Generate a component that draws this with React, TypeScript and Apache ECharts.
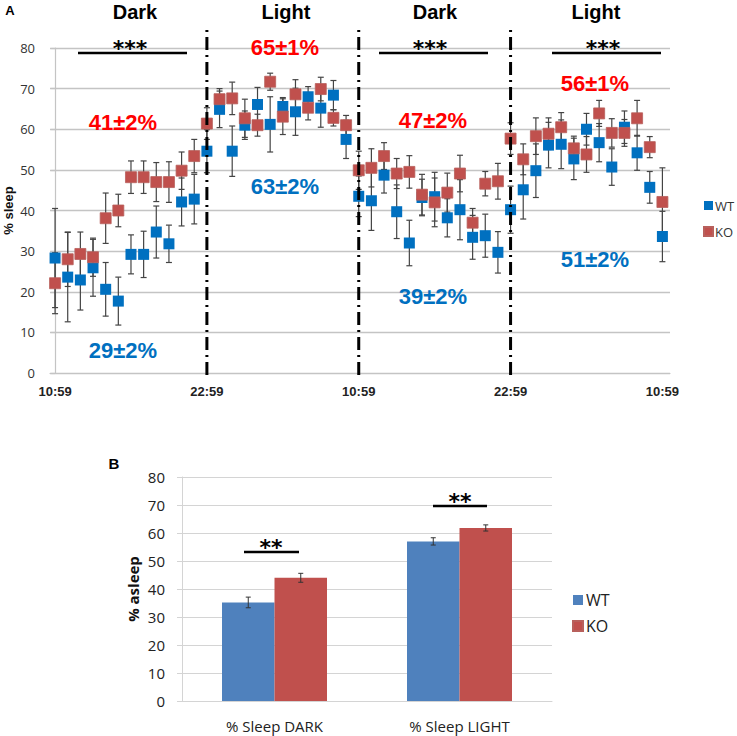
import React, { useEffect, useRef } from "react";
import * as echarts from "echarts";

// ---------- Panel A data (hourly, 0..48) ----------
const hours: number[] = Array.from({ length: 49 }, (_, i) => i);
const tickHours = [0, 12, 24, 36, 48];
const tickLabels = ["10:59", "22:59", "10:59", "22:59", "10:59"];
const dividerHours = [12, 24, 36];

const wtValues = [
  28.3, 23.6, 22.9, 25.9, 20.6, 17.7, 29.2, 29.2, 34.7, 31.8, 42.1, 42.8, 54.6,
  64.9, 54.6, 61.0, 66.1, 61.2, 65.6, 64.3, 68.0, 65.2, 68.4, 57.5,
  43.5, 42.4, 48.7, 39.7, 32.0, 43.2, 43.4, 38.2, 40.2, 33.4, 33.8, 29.7,
  40.2, 45.1, 49.8, 56.1, 56.3, 52.7, 60.0, 56.7, 50.7, 60.5, 54.2, 45.7, 33.6,
];
const koValues = [
  22.1, 28.0, 29.3, 28.5, 38.1, 40.0, 48.2, 48.2, 47.0, 47.0, 49.8, 53.4, 61.4,
  67.4, 67.6, 62.7, 61.0, 71.7, 63.1, 68.6, 65.3, 69.9, 62.8, 61.0,
  49.9, 50.5, 53.4, 49.1, 49.5, 43.9, 42.0, 44.4, 49.1, 37.0, 46.6, 47.2,
  57.7, 52.6, 58.3, 58.9, 60.5, 55.3, 53.8, 63.9, 59.1, 59.1, 62.7, 55.6, 42.1,
];
const wtErr = [
  12.2, 11, 7.4, 7, 6.6, 5.9, 4.8, 5.7, 6.4, 4.6, 5.9, 6.1, 5.3,
  4.5, 6.2, 3.5, 4.2, 6.8, 2.2, 5.8, 2.5, 4.7, 3.6, 4.7,
  5, 7.3, 4.4, 6.6, 5.6, 4.5, 6, 4.7, 7.4, 5.4, 5.3, 5.1,
  5.8, 7.2, 6.6, 5.6, 6, 5.1, 3.9, 4.7, 4.5, 4, 4.3, 3.9, 6.2,
];
const koErr = [
  7.5, 6.7, 5.4, 4.7, 6.2, 4, 4, 4, 4.8, 5, 4.6, 4.1, 3.9,
  2.6, 4, 4.7, 2.7, 2.1, 4.4, 3.6, 3, 2.9, 2, 2.4,
  4.7, 4.7, 3.3, 3.7, 4, 5, 6, 4.8, 4.5, 3.5, 3, 4.4,
  3.9, 3.8, 4.5, 3.9, 3.6, 3, 4.4, 3.2, 3.5, 3.3, 4.4, 2.6, 8.4,
];

// ---------- Panel B data ----------
const barCategories = ["% Sleep DARK", "% Sleep LIGHT"];
const barWT = [35.2, 57.0];
const barKO = [44.0, 61.8];
const barWTErr = [1.9, 1.3];
const barKOErr = [1.6, 1.1];

// ---------- styles ----------
const WT_A = "#0070C0";
const KO_A = "#C0504D";
const WT_B = "#4F81BD";
const KO_B = "#C0504D";
const GRID_A = "#c4c4c4";
const GRID_B = "#d4d4d4";
const BAR_W = 52.5;

function errRenderer(capHalf: number, color: string) {
  return (params: any, api: any) => {
    const x = api.value(0);
    const v = api.value(1);
    const e = api.value(2);
    const lo = api.coord([x, v - e]);
    const hi = api.coord([x, v + e]);
    const px = lo[0];
    const style = { stroke: color, lineWidth: 1.2 };
    return {
      type: "group",
      children: [
        { type: "line", shape: { x1: px, y1: lo[1], x2: px, y2: hi[1] }, style },
        { type: "line", shape: { x1: px - capHalf, y1: lo[1], x2: px + capHalf, y2: lo[1] }, style },
        { type: "line", shape: { x1: px - capHalf, y1: hi[1], x2: px + capHalf, y2: hi[1] }, style },
      ],
    };
  };
}

function barErrRenderer(sign: number) {
  return (params: any, api: any) => {
    const idx = api.value(0);
    const v = api.value(1);
    const e = api.value(2);
    const lo = api.coord([idx, v - e]);
    const hi = api.coord([idx, v + e]);
    const px = lo[0] + (sign * BAR_W) / 2;
    const style = { stroke: "#333", lineWidth: 1 };
    return {
      type: "group",
      children: [
        { type: "line", shape: { x1: px, y1: lo[1], x2: px, y2: hi[1] }, style },
        { type: "line", shape: { x1: px - 2.5, y1: lo[1], x2: px + 2.5, y2: lo[1] }, style },
        { type: "line", shape: { x1: px - 2.5, y1: hi[1], x2: px + 2.5, y2: hi[1] }, style },
      ],
    };
  };
}

function txt(text: string, x: number, y: number, fill: string, fontSize: number, fontFamily = "Liberation Sans", fontWeight: any = "bold") {
  return {
    type: "text",
    x,
    y,
    style: { text, fill, fontSize, fontWeight, fontFamily, align: "center", verticalAlign: "middle" },
    z: 10,
  };
}
function hline(x1: number, x2: number, y: number, w: number) {
  return { type: "line", shape: { x1, y1: y, x2, y2: y }, style: { stroke: "#000", lineWidth: w }, z: 10 };
}

export default function App() {
  const ref = useRef<HTMLDivElement>(null);
  useEffect(() => {
    document.body.style.margin = "0";
    const chart = echarts.init(ref.current!, undefined, { renderer: "svg" });
    const red = "#FF0000";
    const blue = "#0070C0";
    const option: any = {
      animation: false,
      backgroundColor: "#fff",
      textStyle: { fontFamily: "Open Sans" },
      grid: [
        { left: 50, top: 48, width: 620, height: 325, outerBoundsMode: "none", containLabel: false },
        { left: 182, top: 477, width: 370, height: 224, outerBoundsMode: "none", containLabel: false },
      ],
      xAxis: [
        {
          type: "value",
          gridIndex: 0,
          min: -0.4,
          max: 48.6,
          axisLine: { show: true, lineStyle: { color: GRID_A, width: 1.2 } },
          axisTick: { show: false },
          splitLine: { show: false },
          axisLabel: {
            customValues: tickHours,
            formatter: (v: number) => tickLabels[tickHours.indexOf(Math.round(v))] ?? "",
            fontSize: 13,
            fontWeight: "bold",
            color: "#222",
            margin: 12,
            fontFamily: "Liberation Sans",
          },
        },
        {
          type: "category",
          gridIndex: 1,
          data: barCategories,
          axisTick: { show: false },
          axisLine: { show: true, lineStyle: { color: GRID_B } },
          axisLabel: { fontSize: 15, color: "#222", margin: 17, fontFamily: "Open Sans" },
        },
      ],
      yAxis: [
        {
          type: "value",
          gridIndex: 0,
          min: 0,
          max: 80,
          interval: 10,
          name: "% sleep",
          nameLocation: "middle",
          nameGap: 35,
          nameMoveOverlap: false,
          nameTextStyle: { fontSize: 13, fontWeight: "bold", color: "#111", fontFamily: "Liberation Sans" },
          axisLine: { show: true, lineStyle: { color: GRID_A, width: 1.2 } },
          axisTick: { show: true, length: 4, lineStyle: { color: GRID_A, width: 1.2 } },
          splitLine: { show: true, lineStyle: { color: GRID_A, width: 1.4 } },
          axisLabel: { fontSize: 13, color: "#333", margin: 15, fontFamily: "Open Sans" },
        },
        {
          type: "value",
          gridIndex: 1,
          min: 0,
          max: 80,
          interval: 10,
          name: "% asleep",
          nameLocation: "middle",
          nameGap: 42,
          nameMoveOverlap: false,
          nameTextStyle: { fontSize: 15, fontWeight: "bold", color: "#111", fontFamily: "Open Sans" },
          axisLine: { show: true, lineStyle: { color: GRID_B } },
          axisTick: { show: true, length: 5, lineStyle: { color: GRID_B } },
          splitLine: { show: true, lineStyle: { color: GRID_B } },
          axisLabel: { fontSize: 15, color: "#222", margin: 17, fontFamily: "Open Sans" },
        },
      ],
      legend: [
        {
          data: [
            { name: "WT", icon: "rect", itemStyle: { color: WT_A } },
            { name: "KO", icon: "rect", itemStyle: { color: KO_A } },
          ],
          orient: "vertical",
          left: 703,
          top: 199,
          padding: 0,
          itemWidth: 9,
          itemHeight: 9,
          itemGap: 13,
          selectedMode: false,
          textStyle: { fontSize: 13, color: "#333", padding: [0, 0, 0, -3] },
        },
        {
          data: [
            { name: "WT", icon: "rect", itemStyle: { color: WT_B } },
            { name: "KO", icon: "rect", itemStyle: { color: KO_B } },
          ],
          orient: "vertical",
          left: 572,
          top: 592,
          padding: 0,
          itemWidth: 10,
          itemHeight: 10,
          itemGap: 10,
          selectedMode: false,
          textStyle: { fontSize: 16, color: "#222", padding: [0, 0, 0, -2] },
        },
      ],
      series: [
        {
          name: "WT error",
          type: "custom",
          xAxisIndex: 0,
          yAxisIndex: 0,
          renderItem: errRenderer(3, "#444"),
          data: hours.map((h, i) => [h, wtValues[i], wtErr[i]]),
          z: 1,
        },
        {
          name: "KO error",
          type: "custom",
          xAxisIndex: 0,
          yAxisIndex: 0,
          renderItem: errRenderer(3, "#444"),
          data: hours.map((h, i) => [h, koValues[i], koErr[i]]),
          z: 1,
        },
        {
          name: "WT",
          type: "scatter",
          xAxisIndex: 0,
          yAxisIndex: 0,
          symbol: "rect",
          symbolSize: 11,
          itemStyle: { color: WT_A, opacity: 1 },
          data: hours.map((h, i) => [h, wtValues[i]]),
          z: 3,
        },
        {
          name: "KO",
          type: "scatter",
          xAxisIndex: 0,
          yAxisIndex: 0,
          symbol: "rect",
          symbolSize: 11,
          itemStyle: { color: KO_A, opacity: 1, borderColor: "#b8605c", borderWidth: 0.8 },
          data: hours.map((h, i) => [h, koValues[i]]),
          z: 4,
        },
        {
          name: "Light/Dark boundary",
          type: "custom",
          xAxisIndex: 0,
          yAxisIndex: 0,
          clip: false,
          renderItem: (params: any, api: any) => {
            const h = api.value(0);
            const b = api.coord([h, 0]);
            const t = api.coord([h, 80]);
            return {
              type: "line",
              shape: { x1: b[0], y1: b[1] + 2, x2: b[0], y2: t[1] - 18 },
              style: { stroke: "#000", lineWidth: 3, lineDash: [13, 5, 2, 5] },
            };
          },
          data: dividerHours.map((h) => [h]),
          z: 5,
        },
        {
          name: "WT",
          type: "bar",
          xAxisIndex: 1,
          yAxisIndex: 1,
          barWidth: BAR_W,
          barGap: "0%",
          itemStyle: { color: WT_B },
          data: barWT,
        },
        {
          name: "KO",
          type: "bar",
          xAxisIndex: 1,
          yAxisIndex: 1,
          barWidth: BAR_W,
          barGap: "0%",
          itemStyle: { color: KO_B },
          data: barKO,
        },
        {
          name: "WT bar error",
          type: "custom",
          xAxisIndex: 1,
          yAxisIndex: 1,
          renderItem: barErrRenderer(-1),
          data: barCategories.map((c, i) => [i, barWT[i], barWTErr[i]]),
          z: 6,
        },
        {
          name: "KO bar error",
          type: "custom",
          xAxisIndex: 1,
          yAxisIndex: 1,
          renderItem: barErrRenderer(1),
          data: barCategories.map((c, i) => [i, barKO[i], barKOErr[i]]),
          z: 6,
        },
      ],
      graphic: [
        txt("A", 10, 10, "#000", 13),
        txt("B", 114, 463, "#000", 15),
        txt("Dark", 135, 12, "#000", 20),
        txt("Light", 286, 12, "#000", 20),
        txt("Dark", 435, 12, "#000", 20),
        txt("Light", 596, 12, "#000", 20),
        txt("41±2%", 123, 122, red, 22),
        txt("29±2%", 123, 350, blue, 22),
        txt("65±1%", 285, 47, red, 22),
        txt("63±2%", 285, 186, blue, 22),
        txt("47±2%", 433, 120, red, 22),
        txt("39±2%", 433, 296, blue, 22),
        txt("56±1%", 595, 83, red, 22),
        txt("51±2%", 595, 259, blue, 22),
        hline(78, 187, 53, 2.7),
        txt("***", 130, 48, "#000", 22, "DejaVu Sans", "bold"),
        hline(379, 488, 53, 2.7),
        txt("***", 430, 48, "#000", 22, "DejaVu Sans", "bold"),
        hline(552, 661, 53, 2.7),
        txt("***", 603, 48, "#000", 22, "DejaVu Sans", "bold"),
        hline(244, 299, 552, 2.4),
        txt("**", 271, 547, "#000", 22, "DejaVu Sans", "bold"),
        hline(433, 487, 506, 2.4),
        txt("**", 460, 501, "#000", 22, "DejaVu Sans", "bold"),
      ],
    };
    chart.setOption(option);
    return () => chart.dispose();
  }, []);
  return <div ref={ref} style={{ width: 737, height: 736 }} />;
}
